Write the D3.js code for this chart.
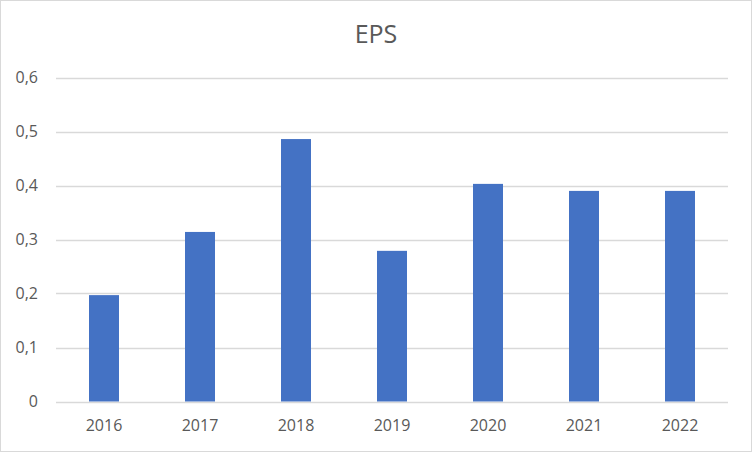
<!DOCTYPE html>
<html>
<head>
<meta charset="utf-8">
<script src="https://cdn.jsdelivr.net/npm/d3@7"></script>
<style>
  html, body { margin: 0; padding: 0; background: #fff; }
  svg { display: block; }
  text { font-family: "Open Sans", "Noto Sans", sans-serif; fill: #595959; }
</style>
</head>
<body>
<svg id="chart" width="752" height="452"></svg>
<script>
const categories = ["2016", "2017", "2018", "2019", "2020", "2021", "2022"];
const epsValues = [0.197, 0.314, 0.486, 0.279, 0.403, 0.390, 0.390];
const yTicks = [0, 0.1, 0.2, 0.3, 0.4, 0.5, 0.6];
const yTickLabels = ["0", "0,1", "0,2", "0,3", "0,4", "0,5", "0,6"];
const title = "EPS";

const W = 752, H = 452;
const plot = { left: 56, right: 728, top: 77.5, bottom: 401.5 };

const svg = d3.select("#chart");

svg.append("rect")
  .attr("x", 0.5).attr("y", 0.5)
  .attr("width", W - 1).attr("height", H - 1)
  .attr("fill", "#fff").attr("stroke", "#d9d9d9").attr("stroke-width", 1);

const x = d3.scaleBand().domain(categories).range([plot.left, plot.right])
  .paddingInner(0.6875).paddingOuter(0.34375);
const y = d3.scaleLinear().domain([0, 0.6]).range([plot.bottom, plot.top]);

// gridlines
svg.append("g").selectAll("line").data(yTicks).join("line")
  .attr("x1", plot.left).attr("x2", plot.right)
  .attr("y1", d => Math.round(y(d)) + 0.5).attr("y2", d => Math.round(y(d)) + 0.5)
  .attr("stroke", "#d9d9d9").attr("stroke-width", 1.5);

// bars
svg.append("g").selectAll("rect").data(categories).join("rect")
  .attr("x", d => x(d))
  .attr("width", x.bandwidth())
  .attr("y", (d, i) => y(epsValues[i]))
  .attr("height", (d, i) => y(0) - y(epsValues[i]))
  .attr("fill", "#4472c4");

// y axis labels
const yAxis = d3.axisLeft(y).tickValues(yTicks)
  .tickFormat((d, i) => yTickLabels[i]).tickSize(0).tickPadding(0);
const gy = svg.append("g").attr("transform", "translate(38,0)").call(yAxis);
gy.select(".domain").remove();
gy.selectAll("text").attr("font-size", 16).attr("fill", "#595959")
  .style("font-family", "'Open Sans', sans-serif");

// x axis labels
const xAxis = d3.axisBottom(x).tickSize(0).tickPadding(0);
const gx = svg.append("g").attr("transform", "translate(0,420)").call(xAxis);
gx.select(".domain").remove();
gx.selectAll("text").attr("font-size", 16).attr("fill", "#595959")
  .style("font-family", "'Open Sans', sans-serif");

// title
svg.append("text")
  .attr("x", 376).attr("y", 43)
  .attr("text-anchor", "middle")
  .attr("font-size", 25)
  .text(title);
</script>
</body>
</html>
